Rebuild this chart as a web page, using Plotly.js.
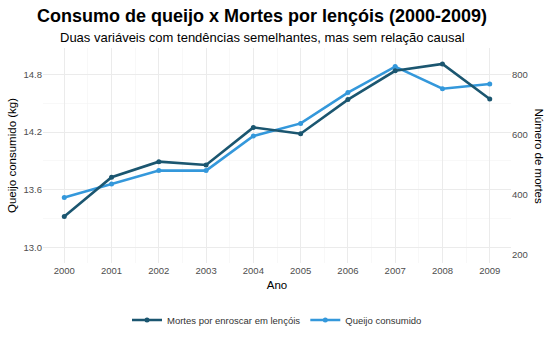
<!DOCTYPE html>
<html>
<head>
<meta charset="utf-8">
<script src="https://cdn.plot.ly/plotly-3.0.1.min.js"></script>
<style>html,body{margin:0;padding:0;background:#fff;}#chart{width:551px;height:340px;}</style>
</head>
<body>
<div id="chart"></div>
<script>
const years = [2000, 2001, 2002, 2003, 2004, 2005, 2006, 2007, 2008, 2009];
const cheeseKg = [13.52, 13.66, 13.80, 13.80, 14.16, 14.29, 14.61, 14.88, 14.65, 14.70];
const deaths = [328, 459, 511, 500, 625, 604, 718, 814, 837, 720];
const deathsName = "Mortes por enroscar em lençóis";
const cheeseName = "Queijo consumido";
const leftTicks = [13.0, 13.6, 14.2, 14.8];
const rightTicks = [200, 400, 600, 800];

const darkColor = "#1b5670";
const lightColor = "#3498db";
const font = "Liberation Sans, Arial, sans-serif";

const traces = [
  {x: years, y: deaths, name: deathsName, yaxis: "y2", type: "scatter", mode: "lines+markers",
   line: {color: darkColor, width: 2.6}, marker: {color: darkColor, size: 5}},
  {x: years, y: cheeseKg, name: cheeseName, yaxis: "y", type: "scatter", mode: "lines+markers",
   line: {color: lightColor, width: 2.6}, marker: {color: lightColor, size: 5}}
];

const layout = {
  width: 551, height: 340,
  margin: {l: 43, r: 40, t: 48, b: 77, autoexpand: false},
  paper_bgcolor: "#ffffff", plot_bgcolor: "#ffffff",
  font: {family: font, color: "#4d4d4d", size: 9.5},
  showlegend: true,
  legend: {orientation: "h", x: 0.5, xanchor: "center", y: -0.265, yanchor: "middle",
           font: {size: 9.5, color: "#333333"}, traceorder: "normal"},
  xaxis: {range: [1999.55, 2009.45], tickvals: years, ticktext: years.map(String), automargin: false,
          showgrid: true, gridcolor: "#ebebeb", gridwidth: 1, zeroline: false, showline: false,
          ticks: "", ticklen: 0, tickfont: {size: 9.5, color: "#4d4d4d"},
          minor: {dtick: 0.5, tick0: 1999.5, showgrid: true, gridcolor: "#f3f3f3", gridwidth: 0.6},
          title: {text: "Ano", font: {size: 11.5, color: "#000000"}, standoff: 6}},
  yaxis: {range: [12.841, 15.073], tickvals: leftTicks, tickformat: ".1f", automargin: false,
          showgrid: true, gridcolor: "#ebebeb", gridwidth: 1, zeroline: false, showline: false,
          ticks: "", tickfont: {size: 9.5, color: "#4d4d4d"},
          minor: {dtick: 0.3, tick0: 13.0, showgrid: true, gridcolor: "#f3f3f3", gridwidth: 0.6},
          title: {text: "Queijo consumido (kg)", font: {size: 11.5, color: "#000000"}, standoff: 4}},
  yaxis2: {range: [173, 890], tickvals: rightTicks, overlaying: "y", side: "right", automargin: false,
           showgrid: false, zeroline: false, showline: false, ticks: "",
           tickfont: {size: 9.5, color: "#4d4d4d"}},
  annotations: [
    {text: "<b>Consumo de queijo x Mortes por lençóis (2000-2009)</b>", xref: "paper", yref: "paper",
     x: (262 - 43) / 468, y: 1 + (48 - 16) / 215, xanchor: "center", yanchor: "middle", showarrow: false,
     font: {size: 18, color: "#000000", family: font}},
    {text: "Duas variáveis com tendências semelhantes, mas sem relação causal", xref: "paper", yref: "paper",
     x: (262 - 43) / 468, y: 1 + (48 - 37) / 215, xanchor: "center", yanchor: "middle", showarrow: false,
     font: {size: 13, color: "#000000", family: font}},
    {text: "Número de mortes", xref: "paper", yref: "paper", textangle: 90,
     x: 1 + (539 - 511) / 468, y: 0.5, xanchor: "center", yanchor: "middle", showarrow: false,
     font: {size: 11.5, color: "#000000", family: font}}
  ]
};

Plotly.newPlot("chart", traces, layout, {displayModeBar: false, staticPlot: true});
</script>
</body>
</html>
